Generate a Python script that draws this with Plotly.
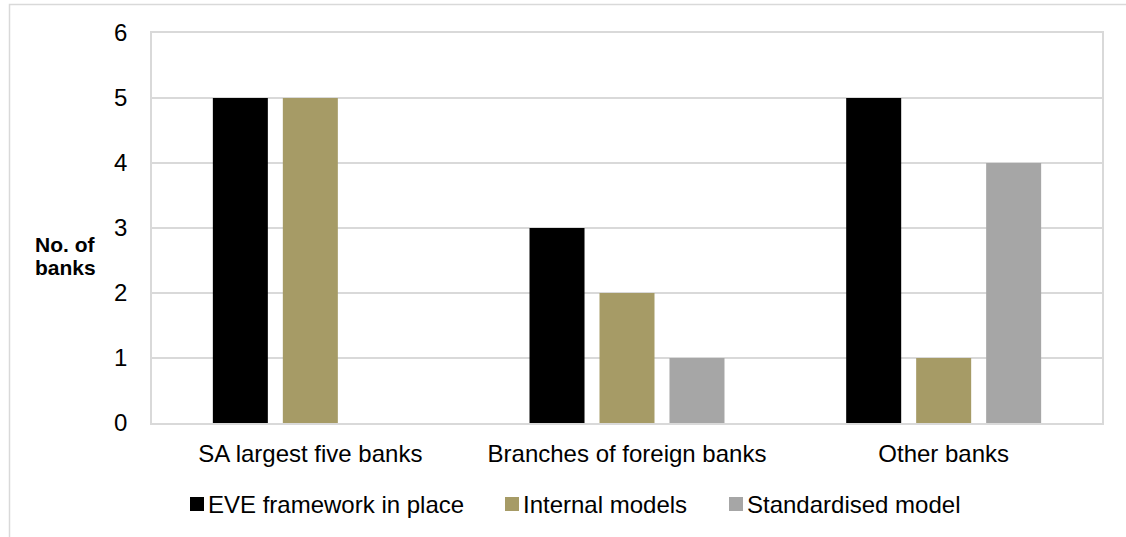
import plotly.graph_objects as go

# Bank groups and counts per EVE practice
categories = ["SA largest five banks", "Branches of foreign banks", "Other banks"]
series_names = ["EVE framework in place", "Internal models", "Standardised model"]
eve_in_place = [5, 3, 5]
internal_models = [5, 2, 1]
standardised_model = [0, 1, 4]
y_ticks = [0, 1, 2, 3, 4, 5, 6]

series_values = [eve_in_place, internal_models, standardised_model]
colors = ["#000000", "#A69B66", "#A6A6A6"]

W, H = 1126, 537
ML, MR, MT, MB = 152, 24, 33, 114
PW, PH = W - ML - MR, H - MT - MB
FONT = "Liberation Sans, Arial, sans-serif"
GRID = "#D9D9D9"


def px_x(px):
    return (px - ML) / PW


def px_y(py):
    return (H - MB - py) / PH


fig = go.Figure()
for name, vals, col in zip(series_names, series_values, colors):
    fig.add_trace(go.Bar(
        x=categories, y=vals, name=name,
        marker=dict(color=col, line=dict(width=0)),
        showlegend=False,
    ))

annotations = [
    dict(text="<b>No. of</b>", x=px_x(33), y=px_y(244), xref="paper", yref="paper",
         xanchor="left", yanchor="middle", showarrow=False,
         font=dict(family=FONT, size=21, color="#000000")),
    dict(text="<b>banks</b>", x=px_x(33), y=px_y(267), xref="paper", yref="paper",
         xanchor="left", yanchor="middle", showarrow=False,
         font=dict(family=FONT, size=21, color="#000000")),
]

shapes = [
    # outer chart frame
    dict(type="rect", xref="paper", yref="paper",
         x0=px_x(9.5), x1=px_x(W + 20), y0=px_y(4.5), y1=px_y(H + 20),
         line=dict(color=GRID, width=1.5), fillcolor="rgba(0,0,0,0)", layer="below"),
]

# legend row: swatch + label
legend_swatch_left = [190, 505, 729]
for name, col, sx in zip(series_names, colors, legend_swatch_left):
    shapes.append(dict(type="rect", xref="paper", yref="paper",
                       x0=px_x(sx), x1=px_x(sx + 14), y0=px_y(497), y1=px_y(511),
                       fillcolor=col, line=dict(width=0)))
    annotations.append(dict(text=name, x=px_x(sx + 16), y=px_y(504),
                            xref="paper", yref="paper", xanchor="left", yanchor="middle",
                            showarrow=False,
                            font=dict(family=FONT, size=24, color="#000000")))

fig.update_layout(
    width=W, height=H,
    margin=dict(l=ML, r=MR, t=MT, b=MB, pad=0),
    paper_bgcolor="white", plot_bgcolor="white",
    barmode="group", bargap=0.337, bargroupgap=0.214,
    font=dict(family=FONT, size=24, color="#000000"),
    annotations=annotations, shapes=shapes,
    showlegend=False,
)
fig.update_xaxes(
    showline=True, mirror=True, linecolor=GRID, linewidth=1.5,
    showgrid=False, ticks="", ticklabelstandoff=8,
    tickfont=dict(family=FONT, size=24, color="#000000"),
)
fig.update_yaxes(
    range=[0, 6], tickvals=y_ticks, ticktext=[str(v) for v in y_ticks],
    showline=True, mirror=True, linecolor=GRID, linewidth=1.5,
    showgrid=True, gridcolor=GRID, gridwidth=1.5, zeroline=False,
    ticks="", ticklabelstandoff=18,
    tickfont=dict(family=FONT, size=24, color="#000000"),
)

fig.write_html("out.html")
